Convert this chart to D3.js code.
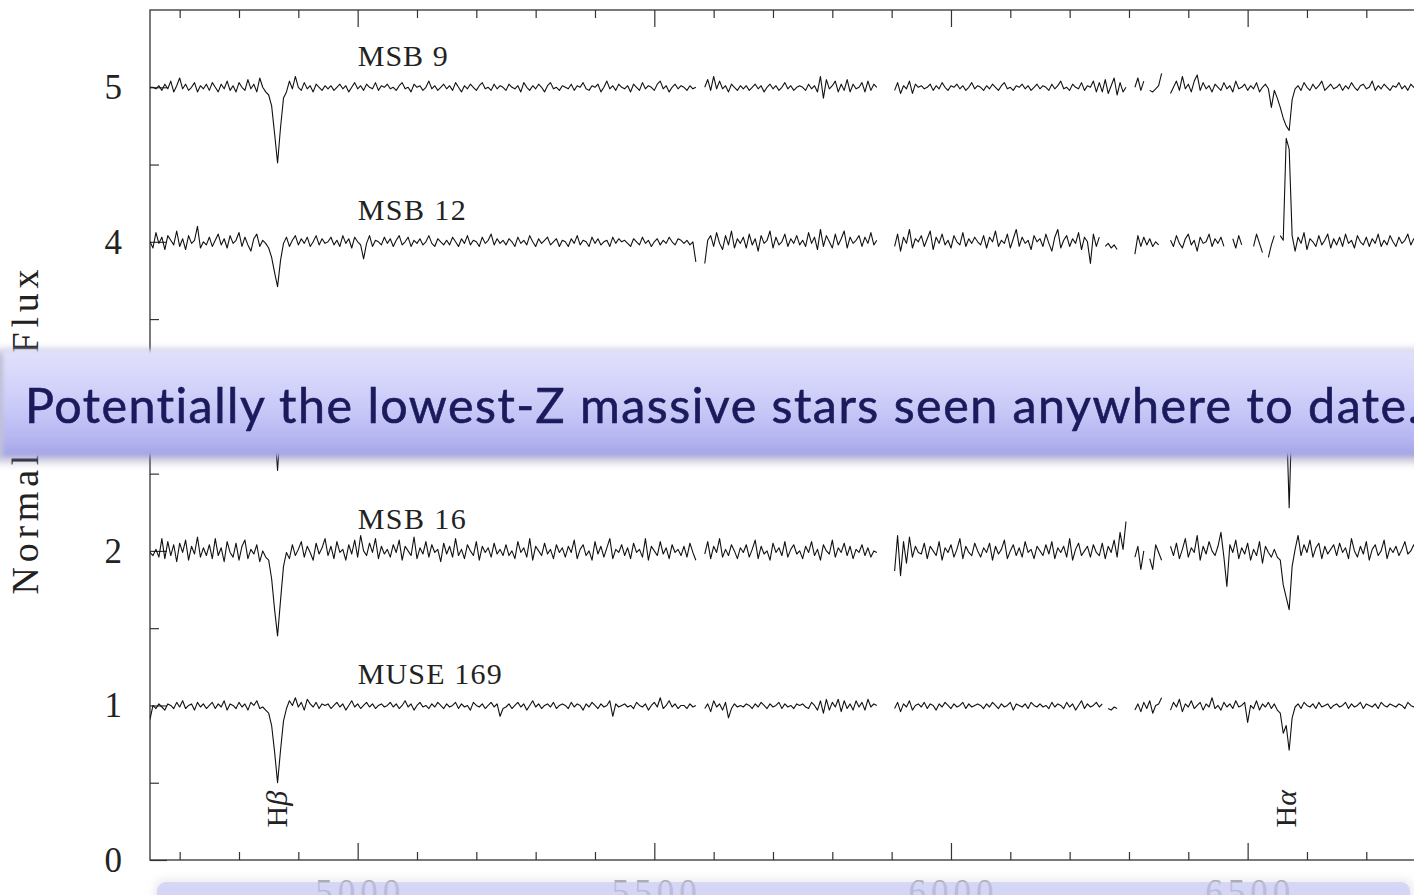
<!DOCTYPE html>
<html>
<head>
<meta charset="utf-8">
<script src="https://cdn.jsdelivr.net/npm/d3@7"></script>
<style>
  html, body { margin: 0; padding: 0; background: #fff; }
  svg { display: block; }
</style>
</head>
<body>
<svg id="chart" width="1414" height="895"></svg>
<script>
// Spectra sampling (Å): each row of a flux table covers one 100 Å block
const lambdaStart = 4650;
const lambdaStep = 5;
const rowSpan = 100;

const starNames = ["MSB 9", "MSB 12", "MSB 15", "MSB 16", "MUSE 169"];
const starOffsets = [4, 3, 2, 1, 0];

// Normalised flux in percent of the continuum; null marks masked pixels
const fluxMSB9 = [
  [100,100,99,101,98,102,99,104,97,101,106,99,102,98,100,103,97,101,99,102],
  [98,103,100,97,102,99,104,98,101,97,103,100,98,105,99,102,97,106,100,97],
  [95,88,70,51,74,93,97,104,99,107,100,98,103,99,101,97,102,100,98,101],
  [99,101,98,100,102,99,101,97,100,103,99,101,98,102,100,99,103,98,101,100],
  [102,99,100,98,101,103,99,100,97,102,100,101,98,100,104,99,101,98,100,102],
  [99,101,98,103,100,97,101,99,102,100,98,101,103,99,100,98,102,99,101,100],
  [98,102,100,99,101,97,103,100,98,101,99,102,100,97,101,103,99,100,98,101],
  [100,99,102,98,101,100,103,99,98,101,100,102,97,100,104,99,101,98,102,100],
  [99,101,97,102,100,98,103,99,101,100,98,102,104,99,101,97,100,102,99,101],
  [100,98,101,99,100,null,null,100,105,98,107,99,104,99,101,97,102,100,98,101],
  [99,101,98,100,102,99,101,97,100,102,99,101,98,100,103,99,101,98,100,101],
  [100,98,102,99,101,97,107,93,105,99,101,104,97,102,98,105,97,102,99,100],
  [103,97,104,98,102,100,null,null,null,null,null,98,103,96,101,99,104,96,102,100],
  [101,99,100,102,98,101,99,103,100,98,101,100,102,99,101,98,100,103,99,101],
  [100,98,101,99,102,100,98,101,103,99,100,98,101,100,102,99,101,98,100,102],
  [99,101,100,98,102,99,101,104,99,100,98,102,100,99,103,98,101,100,104,97],
  [103,97,105,96,101,106,95,103,97,100,null,null,100,106,98,104,null,98,97,99],
  [101,109,null,null,96,100,104,98,107,99,102,97,104,108,98,103,99,101,97,102],
  [100,98,103,99,101,97,104,99,100,102,98,101,99,103,97,100,102,99,87,98],
  [93,87,80,75,72,92,99,101,98,103,100,98,102,99,101,104,98,100,102,99],
  [100,102,98,101,99,103,100,98,101,102,99,100,104,98,101,99,102,100,98,101],
  [100,103,99,101,98,102,100,99]
];

const fluxMSB12 = [
  [100,96,106,99,103,95,104,101,98,107,97,102,95,104,99,101,110,96,100,98],
  [103,97,101,105,98,102,96,104,99,101,106,97,103,98,94,102,105,97,101,99],
  [96,90,80,71,88,99,103,97,101,104,98,102,99,103,97,100,104,98,102,99],
  [100,103,98,101,97,104,99,102,96,103,100,98,89,99,104,97,101,100,98,103],
  [99,102,97,101,104,98,100,103,97,101,99,102,98,100,104,99,97,102,100,98],
  [101,98,103,100,97,102,99,104,98,101,100,97,103,99,101,105,98,102,99,101],
  [98,102,100,97,103,99,101,98,104,100,97,102,99,101,103,98,100,102,97,101],
  [100,97,102,99,104,98,101,100,97,103,99,102,98,100,101,97,103,99,102,100],
  [101,99,97,102,100,98,103,99,101,97,100,102,98,101,99,103,100,98,102,101],
  [99,101,98,100,87,null,null,86,101,104,97,106,99,95,104,98,107,96,102,99],
  [103,96,105,98,102,94,104,99,101,107,96,103,98,100,105,97,102,99,104,98],
  [101,97,106,99,103,95,108,97,104,100,96,105,98,102,107,96,103,99,101,104],
  [97,103,99,106,98,101,null,null,null,null,null,97,105,94,103,99,108,96,102,100],
  [104,97,102,107,95,103,99,105,98,101,96,104,100,98,106,97,102,99,103,100],
  [98,104,96,103,100,107,97,101,99,105,96,102,108,97,103,99,101,95,104,100],
  [102,97,105,99,94,103,108,96,101,104,97,102,99,106,95,103,100,86,105,97],
  [103,null,97,99,96,98,95,null,null,null,null,null,92,104,97,103,98,102,97,100],
  [98,null,null,null,101,97,104,99,96,102,105,98,101,94,103,99,100,105,97,102],
  [99,103,97,null,null,102,96,104,98,null,null,null,97,105,99,93,null,90,98,104],
  [null,104,101,167,160,104,94,103,99,106,95,102,100,97,104,98,101,105,96,102],
  [98,103,97,105,99,101,96,104,100,98,103,97,102,99,105,97,101,98,104,100],
  [97,103,99,101,105,98,102,100]
];

const fluxMSB15 = [
  [100,103,97,101,99,104,98,102,96,101,100,103,98,99,102,97,101,104,99,100],
  [98,102,100,97,103,99,101,96,104,100,98,102,99,103,97,101,100,98,102,99],
  [96,88,80,52,82,94,101,98,103,99,100,97,102,99,101,104,98,100,97,102],
  [101,98,103,99,100,97,102,100,98,104,99,101,97,102,100,99,103,98,101,100],
  [99,102,97,101,104,98,100,99,103,97,101,100,98,102,99,101,97,103,100,98],
  [102,99,101,97,100,103,98,101,99,102,100,96,103,99,101,98,100,102,97,101],
  [100,97,102,99,101,98,104,100,97,101,99,103,98,100,102,99,101,97,100,103],
  [98,101,99,103,97,100,102,98,101,99,104,97,100,102,98,101,99,100,103,97],
  [101,99,102,98,100,103,97,101,99,100,102,98,104,99,101,97,100,102,99,101],
  [99,102,98,100,101,null,null,99,103,97,101,100,98,102,99,101,97,103,100,98],
  [102,98,101,99,103,97,100,102,98,101,99,100,104,97,101,99,102,98,100,101],
  [99,101,97,103,100,98,102,99,101,104,97,100,99,102,98,101,100,97,103,99],
  [101,98,102,99,100,101,null,null,null,null,null,99,103,97,101,100,98,102,99,101],
  [100,102,98,101,99,103,97,100,102,99,101,98,100,103,97,101,99,102,98,100],
  [98,101,100,97,102,99,101,103,98,100,99,102,97,101,100,98,103,99,101,100],
  [101,99,102,98,100,97,103,99,101,100,98,102,99,101,97,100,104,98,100,102],
  [99,101,98,102,100,97,101,99,103,98,null,null,100,97,102,99,101,98,103,100],
  [98,102,null,null,101,99,97,103,100,98,102,99,101,97,100,102,98,101,99,103],
  [100,98,101,99,103,97,100,102,98,101,99,100,103,98,101,97,102,99,100,96],
  [101,98,99,92,28,94,100,102,98,101,99,103,97,100,102,98,101,99,100,102],
  [99,101,98,102,100,97,101,99,103,98,100,102,99,101,97,100,102,98,101,99],
  [100,98,102,99,101,97,100,102]
];

const fluxMSB16 = [
  [99,97,101,96,108,95,106,97,104,93,105,99,107,94,103,98,109,96,102,97],
  [104,95,108,97,102,93,106,99,96,105,94,103,107,95,101,98,104,93,100,96],
  [94,82,62,45,68,90,99,95,104,97,101,106,96,103,99,94,105,98,102,108],
  [97,103,95,106,99,101,94,104,98,107,96,110,100,97,105,99,108,95,103,98],
  [101,96,104,99,107,94,103,100,97,109,95,102,98,106,96,104,99,101,93,105],
  [98,103,96,108,97,101,95,104,100,97,106,94,103,99,102,96,105,98,101,97],
  [104,97,100,95,106,99,102,96,108,94,103,100,97,105,98,101,95,104,99,102],
  [96,103,99,107,95,101,104,97,100,94,106,98,103,96,102,108,95,101,99,104],
  [97,102,95,105,99,101,96,108,94,103,100,97,106,98,102,95,104,99,101,97],
  [103,96,105,99,94,null,null,98,106,95,103,99,108,96,101,97,104,100,95,102],
  [99,104,96,101,107,95,103,98,100,94,105,99,102,97,106,96,101,104,98,100],
  [95,103,99,106,97,101,94,104,100,98,107,96,102,99,105,97,103,95,101,99],
  [104,97,102,96,100,99,null,null,null,null,null,87,110,84,106,92,109,96,103,99],
  [98,105,95,103,100,97,106,94,102,99,104,96,101,108,95,103,99,97,105,100],
  [96,102,99,105,94,103,98,101,107,95,100,104,97,102,96,106,99,101,95,103],
  [100,97,104,98,106,95,102,99,103,96,108,94,101,105,97,100,103,96,104,99],
  [97,105,95,103,99,107,96,112,101,119,null,null,96,103,88,100,null,95,88,104],
  [99,94,null,null,103,97,105,95,101,108,96,102,99,110,94,103,98,106,100,97],
  [103,112,96,77,104,99,107,95,102,98,105,94,101,97,106,92,103,99,96,101],
  [96,94,78,70,62,90,101,110,97,104,99,107,96,102,105,95,103,98,101,104],
  [97,105,99,102,95,108,100,96,103,98,106,94,101,104,97,100,107,95,102,99],
  [103,97,101,106,98,100,104,99]
];

const fluxMUSE169 = [
  [91,100,98,101,99,97,101,100,98,102,99,103,98,100,101,97,102,99,101,98],
  [100,102,98,101,99,103,97,101,100,98,102,99,101,97,102,100,103,98,99,97],
  [95,87,70,50,71,90,98,103,100,105,99,102,97,104,101,99,102,98,101,100],
  [101,98,100,102,99,101,97,100,103,99,101,98,100,102,99,101,98,100,101,99],
  [100,102,99,101,98,100,103,99,101,97,100,102,99,100,98,101,99,102,100,98],
  [101,99,100,102,98,101,99,100,97,102,100,99,101,98,100,102,99,101,93,98],
  [99,101,98,100,102,99,101,97,100,103,99,101,98,100,101,99,102,98,100,101],
  [100,98,102,99,101,100,97,101,99,102,100,98,101,99,100,103,93,101,99,100],
  [101,99,100,98,102,100,99,101,97,100,102,99,105,98,100,103,99,101,98,100],
  [100,98,101,99,100,null,null,98,101,96,103,99,101,97,102,92,98,101,99,100],
  [99,101,100,98,101,99,102,100,98,101,99,100,102,98,101,99,100,98,101,100],
  [101,99,98,102,100,97,103,95,104,97,102,99,104,96,103,98,101,97,103,99],
  [102,97,104,99,101,100,null,null,null,null,null,98,102,96,101,99,103,97,100,101],
  [99,102,98,101,100,97,101,99,102,100,98,101,99,100,102,98,101,99,100,101],
  [100,98,101,99,102,100,98,101,99,100,102,97,101,100,99,101,98,102,100,99],
  [101,99,100,98,102,99,101,100,98,102,99,101,97,100,103,98,101,99,100,102],
  [99,101,null,98,97,99,98,null,null,null,null,null,97,101,96,102,98,103,95,100],
  [101,105,null,null,97,102,99,104,96,101,99,103,98,100,102,97,101,99,105,98],
  [100,97,102,99,101,98,103,99,100,102,89,100,98,103,97,101,99,102,98,101],
  [97,95,82,87,71,92,99,101,98,102,100,99,101,98,102,99,100,101,98,100],
  [101,99,100,102,98,101,99,100,102,98,101,100,99,101,98,102,100,99,101,100],
  [99,101,100,98,102,100,99,101]
];

const starFlux = [fluxMSB9, fluxMSB12, fluxMSB15, fluxMSB16, fluxMUSE169];

// Hydrogen lines at the systemic velocity
const lineNames = ["H", "H"];
const lineGreek = ["β", "α"];
const lineWavelengths = [4865, 6569];

const yTicks = [0, 1, 2, 3, 4, 5];
const yMinorTicks = [0.5, 1.5, 2.5, 3.5, 4.5];
const xTicks = [5000, 5500, 6000, 6500];
const xMinorTicks = [4700, 4800, 4900, 5100, 5200, 5300, 5400, 5600, 5700, 5800, 5900,
                     6100, 6200, 6300, 6400, 6600, 6700, 6800];
const yTitle = "Normalized Flux";
const bannerText = "Potentially the lowest-Z massive stars seen anywhere to date.";

// ---------------------------------------------------------------------------
const svg = d3.select("#chart");
const serif = "'Liberation Serif', 'DejaVu Serif', serif";

const plotLeft = 150, plotTop = 10, plotBottom = 860, plotRight = 1455.3;
const x = d3.scaleLinear().domain([4650, 6850]).range([plotLeft, plotRight]);
const y = d3.scaleLinear().domain([0, 5.5]).range([plotBottom, plotTop]);

svg.append("rect").attr("width", 1414).attr("height", 895).attr("fill", "#fff");

// defs: band gradient, blurs, plot clip
const defs = svg.append("defs");
const grad = defs.append("linearGradient").attr("id", "bandFill")
  .attr("x1", 0).attr("y1", 0).attr("x2", 0).attr("y2", 1);
[[0, "#e1e1fa"], [0.2, "#d9d9fb"], [0.55, "#c9c9f8"], [0.85, "#b4b4f1"], [1, "#a3a3e6"]]
  .forEach(([o, c]) => grad.append("stop").attr("offset", o).attr("stop-color", c));
const soft = defs.append("filter").attr("id", "soft")
  .attr("x", "-5%").attr("y", "-40%").attr("width", "110%").attr("height", "180%");
soft.append("feGaussianBlur").attr("stdDeviation", 2);
const shade = defs.append("filter").attr("id", "shade")
  .attr("x", "-5%").attr("y", "-60%").attr("width", "110%").attr("height", "220%");
shade.append("feGaussianBlur").attr("stdDeviation", 4);
defs.append("clipPath").attr("id", "plotClip").append("rect")
  .attr("x", plotLeft).attr("y", plotTop).attr("width", plotRight - plotLeft).attr("height", plotBottom - plotTop);

// frame and ticks
const axisColor = "#333";
svg.append("rect").attr("x", plotLeft).attr("y", plotTop)
  .attr("width", plotRight - plotLeft).attr("height", plotBottom - plotTop)
  .attr("fill", "none").attr("stroke", axisColor).attr("stroke-width", 1.3);

function tickGroup(axis, transform) {
  const g = svg.append("g").attr("transform", transform).call(axis);
  g.select(".domain").remove();
  g.selectAll(".tick line").attr("stroke", axisColor).attr("stroke-width", 1.2);
  g.selectAll(".tick text").remove();
  return g;
}
tickGroup(d3.axisBottom(x).tickValues(xTicks).tickSize(-17).tickSizeOuter(0), `translate(0,${plotBottom})`);
tickGroup(d3.axisBottom(x).tickValues(xMinorTicks).tickSize(-8).tickSizeOuter(0), `translate(0,${plotBottom})`);
tickGroup(d3.axisTop(x).tickValues(xTicks).tickSize(-17).tickSizeOuter(0), `translate(0,${plotTop})`);
tickGroup(d3.axisTop(x).tickValues(xMinorTicks).tickSize(-8).tickSizeOuter(0), `translate(0,${plotTop})`);
tickGroup(d3.axisLeft(y).tickValues(yTicks).tickSize(-17).tickSizeOuter(0), `translate(${plotLeft},0)`);
tickGroup(d3.axisLeft(y).tickValues(yMinorTicks).tickSize(-9).tickSizeOuter(0), `translate(${plotLeft},0)`);

// y tick labels
svg.append("g").selectAll("text").data(yTicks).join("text")
  .attr("x", plotLeft - 28).attr("y", d => y(d)).attr("dy", "0.34em")
  .attr("text-anchor", "end")
  .style("font-family", serif).style("font-size", "35px").attr("fill", "#222")
  .text(d => d);

// y title
svg.append("text")
  .attr("transform", `translate(38,432) rotate(-90)`)
  .attr("text-anchor", "middle")
  .attr("textLength", 325).attr("lengthAdjust", "spacing")
  .style("font-family", serif).style("font-size", "38px").attr("fill", "#222")
  .text(yTitle);

// spectra
function toPoints(rows, offset) {
  const pts = [];
  rows.forEach((row, k) => row.forEach((v, j) => {
    pts.push({ w: lambdaStart + k * rowSpan + j * lambdaStep, f: v == null ? null : v / 100 + offset });
  }));
  return pts;
}
const line = d3.line().defined(d => d.f != null).x(d => x(d.w)).y(d => y(d.f));
const specG = svg.append("g").attr("clip-path", "url(#plotClip)");
starFlux.forEach((rows, i) => {
  specG.append("path").datum(toPoints(rows, starOffsets[i]))
    .attr("d", line).attr("fill", "none")
    .attr("stroke", "#111").attr("stroke-width", 1.1).attr("stroke-linejoin", "round");
});

// star labels
svg.append("g").selectAll("text").data(starNames).join("text")
  .attr("x", x(5000)).attr("y", (d, i) => y(starOffsets[i] + 1.14))
  .attr("textLength", d => d.length * 18).attr("lengthAdjust", "spacing")
  .style("font-family", serif).style("font-size", "30px").attr("fill", "#222")
  .text(d => d);

// line identifications
const lineLab = svg.append("g").selectAll("text").data(lineWavelengths).join("text")
  .attr("transform", (d, i) => `translate(${x(d) + (i === 0 ? 9 : 7)},${y(0.21)}) rotate(-90)`)
  .style("font-family", serif).style("font-size", "30px").attr("fill", "#222");
lineLab.append("tspan").text((d, i) => lineNames[i]);
lineLab.append("tspan").style("font-style", "italic").text((d, i) => lineGreek[i]);

// x tick labels
svg.append("g").selectAll("text").data(xTicks).join("text")
  .attr("x", d => x(d)).attr("y", 904)
  .attr("text-anchor", "middle")
  .attr("textLength", 85).attr("lengthAdjust", "spacing")
  .style("font-family", serif).style("font-size", "35px").attr("fill", "#5a5a5a")
  .text(d => d);

// lower caption strip
svg.append("rect").attr("x", 150).attr("y", 871).attr("width", 1270).attr("height", 40)
  .attr("fill", "#fff").attr("opacity", 0.5).attr("filter", "url(#shade)");
svg.append("rect").attr("x", 154).attr("y", 879).attr("width", 1260).attr("height", 40).attr("rx", 10)
  .attr("fill", "#b4b4cc").attr("opacity", 0.25).attr("filter", "url(#shade)");
svg.append("rect").attr("x", 157).attr("y", 882).attr("width", 1253).attr("height", 40).attr("rx", 9)
  .attr("fill", "rgb(196,196,246)").attr("opacity", 0.58);

// headline band
const band = svg.append("g");
band.append("rect").attr("x", -10).attr("y", 350).attr("width", 1450).attr("height", 112)
  .attr("fill", "#6a6aa2").attr("opacity", 0.42).attr("filter", "url(#shade)");
band.append("rect").attr("x", 3).attr("y", 350).attr("width", 1450).attr("height", 106)
  .attr("fill", "url(#bandFill)").attr("filter", "url(#soft)");

const headFont = 48.4;
const head = band.append("text").attr("x", 25).attr("y", 423)
  .style("font-family", "Lato, 'Open Sans', sans-serif").style("font-size", headFont + "px")
  .attr("fill", "#1a1a5c").attr("stroke", "#1a1a5c").attr("stroke-width", 0.6)
  .text(bannerText.slice(0, -1));
const natural = head.node().getComputedTextLength();
const spacing = (1382 - natural) / (bannerText.length - 2);
head.style("letter-spacing", spacing + "px").text(bannerText);
</script>
</body>
</html>
